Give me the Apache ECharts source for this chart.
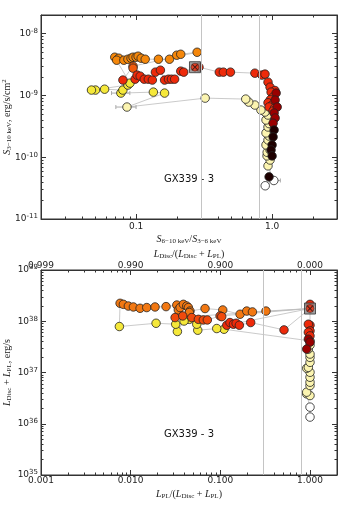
<!DOCTYPE html>
<html>
<head>
<meta charset="utf-8">
<script src="https://cdn.jsdelivr.net/npm/echarts@6/dist/echarts.min.js"></script>
<style>
html,body{margin:0;padding:0;background:#fff;}
#chart{width:341px;height:511px;}
</style>
</head>
<body>
<div id="chart"></div>
<script>
// top panel: flux S(3-10 keV) vs colour S(6-10)/S(3-6), groups in time order
var topWhite = [[0.89, 3.45e-11], [1.03, 4.2e-11]];
var topPale = [[0.933, 7.24e-11], [0.966, 9.0e-11], [0.918, 1.05e-10], [0.92, 1.2e-10], [0.966, 1.31e-10], [0.902, 1.58e-10],
    [0.933, 1.9e-10], [0.95, 2.2e-10], [0.902, 2.47e-10], [0.933, 3.08e-10], [0.95, 3.5e-10], [0.902, 4.0e-10], [0.933, 4.81e-10],
    [0.887, 5.38e-10], [0.828, 5.79e-10], [0.747, 6.98e-10], [0.673, 7.79e-10], [0.64, 8.71e-10], [0.322, 9.04e-10], [0.0857, 6.48e-10]];
var topYellow = [[0.162, 1.09e-9], [0.134, 1.13e-9], [0.0773, 1.09e-9], [0.08, 1.22e-9], [0.0587, 1.26e-9], [0.0503, 1.22e-9],
    [0.047, 1.22e-9], [0.0871, 1.47e-9], [0.0902, 1.58e-9]];
var topOrange = [[0.0697, 4.15e-9], [0.0747, 4.0e-9], [0.072, 3.71e-9], [0.0813, 3.71e-9], [0.0871, 3.85e-9], [0.0918, 4.0e-9],
    [0.095, 4.15e-9], [0.1, 4.15e-9], [0.1035, 4.31e-9], [0.109, 4.0e-9], [0.1167, 3.85e-9], [0.146, 3.85e-9], [0.176, 3.85e-9],
    [0.199, 4.47e-9], [0.213, 4.63e-9], [0.281, 4.99e-9]];
var topOrange2 = [[0.095, 2.97e-9], [0.095, 2.76e-9]];
var topRedA = [[0.08, 1.77e-9], [0.0984, 1.83e-9], [0.1017, 2.13e-9], [0.1072, 2.05e-9], [0.1148, 1.83e-9], [0.123, 1.83e-9],
    [0.1317, 1.77e-9], [0.1387, 2.38e-9], [0.151, 2.56e-9], [0.162, 1.77e-9], [0.173, 1.83e-9], [0.182, 1.83e-9], [0.192, 1.83e-9],
    [0.213, 2.47e-9], [0.224, 2.38e-9]];
var topSquare = [[0.271, 2.86e-9]];
var topRedB = [[0.29, 2.86e-9], [0.409, 2.38e-9], [0.438, 2.38e-9], [0.494, 2.38e-9], [0.747, 2.29e-9], [0.842, 2.13e-9],
    [0.887, 2.21e-9], [0.933, 1.64e-9], [0.966, 1.36e-9], [1.05, 1.2e-9], [0.983, 1.13e-9], [1.017, 9.4e-10], [0.97, 8.5e-10],
    [0.933, 7.6e-10], [1.0, 7.0e-10], [0.95, 6.5e-10], [1.04, 6.2e-10], [1.017, 5.6e-10]];
var topDark = [[1.071, 1.09e-9], [1.053, 8.4e-10], [1.09, 6.48e-10], [1.035, 5.18e-10], [1.053, 4.31e-10], [1.017, 3.55e-10]];
var topBlack = [[1.035, 2.76e-10], [1.017, 2.13e-10], [1.0, 1.58e-10], [0.983, 1.31e-10], [1.0, 1.05e-10], [0.95, 4.81e-11]];
// horizontal error bars [xlo, xhi, y]
var topErr = [[0.071, 0.1, 6.48e-10], [0.066, 0.09, 1.09e-9], [0.044, 0.052, 1.22e-9], [0.935, 1.15, 4.2e-11]];

// bottom panel: L(Disc+PL) vs PL fraction
var botWhite = [[1.0, 1.35e36], [1.0, 2.11e36]];
var botPale = [[0.919, 3.83e36], [1.0, 3.55e36], [0.919, 4.13e36], [1.0, 5.55e36], [1.0, 6.46e36], [1.0, 8.07e36], [1.0, 1.01e37],
    [0.919, 1.21e37], [0.958, 1.26e37], [1.0, 1.58e37], [1.0, 1.97e37], [1.0, 2.29e37], [0.958, 2.86e37], [1.0, 3.42e37], [1.0, 4.14e37]];
var botYellow = [[0.11, 6.99e37], [0.0912, 7.21e37], [0.056, 6.68e37], [0.0546, 8.75e37], [0.0451, 1.09e38], [0.0394, 1.01e38],
    [0.0332, 6.31e37], [0.0318, 8.75e37], [0.0192, 9.14e37], [0.00748, 7.89e37]];
var botOrange = [[0.00762, 2.24e38], [0.00829, 2.14e38], [0.00942, 1.98e38], [0.01072, 1.9e38], [0.01273, 1.79e38], [0.01511, 1.85e38],
    [0.0187, 1.9e38], [0.0248, 1.93e38], [0.0327, 2.07e38], [0.034, 1.66e38], [0.0356, 1.85e38], [0.0387, 2.14e38], [0.0422, 1.98e38],
    [0.044, 1.85e38], [0.0459, 1.58e38], [0.0451, 1.48e38], [0.0675, 1.77e38], [0.1064, 1.66e38], [0.166, 1.37e38], [0.197, 1.58e38],
    [0.228, 1.52e38], [0.323, 1.58e38]];
var botOrangeRed = [[0.0313, 1.18e38], [0.0381, 1.27e38], [0.048, 1.18e38], [0.0569, 1.09e38], [0.0646, 1.06e38], [0.0716, 1.06e38],
    [0.0993, 1.27e38], [0.1037, 1.23e38]];
var botRed = [[0.118, 8.36e37], [0.128, 9.44e37], [0.14, 8.75e37], [0.15, 9.14e37], [0.163, 8.36e37], [0.218, 9.44e37], [0.513, 6.78e37]];
var botSquare = [[1.0, 1.77e38]];
var botRedCol = [[1.0, 2.14e38], [1.0, 8.36e37], [0.958, 8.75e37], [1.0, 6.49e37], [0.958, 6.11e37], [1.0, 5.19e37]];
var botDark = [[0.958, 4.47e37], [1.0, 3.91e37], [0.919, 2.86e37]];

var vLines = [0.3, 0.8];
var topX = [0.02, 3], topY = [1e-11, 2e-8];
var botX = [0.001, 2], botY = [1e35, 1e39];

var myChart = echarts.init(document.getElementById('chart'));

function isDecade(v) {
    var e = Math.log10(v);
    return Math.abs(e - Math.round(e)) < 1e-6;
}
function powLabel(v) {
    if (!isDecade(v)) return '';
    return '10{sup|' + Math.round(Math.log10(v)) + '}';
}
// minor tick positions in exponent space (2..9 x 10^k)
function minorVals(lo, hi) {
    var out = [];
    for (var e = Math.floor(Math.log10(lo)); e <= Math.ceil(Math.log10(hi)); e++) {
        for (var m = 2; m <= 9; m++) {
            var v = m * Math.pow(10, e);
            if (v > lo && v < hi) out.push(Math.log10(v));
        }
    }
    return out;
}

var lblFont = { fontFamily: 'DejaVu Sans', fontSize: 9, color: '#222' };
var supRich = { sup: { fontFamily: 'DejaVu Sans', fontSize: 7, verticalAlign: 'top', padding: [0, 0, 5, 0] } };
var nameRich = {
    i: { fontFamily: 'Liberation Serif', fontStyle: 'italic', fontSize: 10, color: '#222' },
    n: { fontFamily: 'Liberation Serif', fontSize: 10, color: '#222' },
    sub: { fontFamily: 'Liberation Serif', fontSize: 7, color: '#222', padding: [5, 0, 0, 0] },
    sup: { fontFamily: 'Liberation Serif', fontSize: 7, color: '#222', padding: [0, 0, 5, 0] }
};
var lineSty = { show: true, onZero: false, lineStyle: { color: '#333', width: 1 } };

function logAxis(gi, pos, ext, label, extra, margin) {
    var ax = {
        type: 'log', logBase: 10, gridIndex: gi, position: pos, min: ext[0], max: ext[1],
        nameMoveOverlap: false,
        axisLine: lineSty,
        axisTick: { show: true, inside: true, length: 5, lineStyle: { color: '#333' } },
        splitLine: { show: false },
        axisLabel: label ? Object.assign({ show: true, interval: 0, margin: margin == null ? 3 : margin, rich: supRich, formatter: label }, lblFont) : { show: false }
    };
    return Object.assign(ax, extra || {});
}
function minorAxis(gi, pos, ext) {
    return {
        type: 'value', gridIndex: gi, position: pos, min: Math.log10(ext[0]), max: Math.log10(ext[1]),
        axisLine: { show: false, onZero: false }, splitLine: { show: false }, axisLabel: { show: false },
        axisTick: { show: true, inside: true, length: 2.5, lineStyle: { color: '#333' }, customValues: minorVals(ext[0], ext[1]) }
    };
}

function dots(name, data, color, xi, yi, z) {
    return {
        name: name, type: 'scatter', xAxisIndex: xi, yAxisIndex: yi, data: data, symbol: 'circle', symbolSize: 8.5, z: z || 3,
        itemStyle: { color: color, borderColor: '#222', borderWidth: 0.8, opacity: 1 }
    };
}
function track(data, xi, yi) {
    return {
        type: 'line', xAxisIndex: xi, yAxisIndex: yi, data: data, symbol: 'none', z: 1, silent: true,
        lineStyle: { color: '#bdbdbd', width: 0.8 },
        markLine: {
            silent: true, symbol: 'none', label: { show: false },
            lineStyle: { color: '#c4c4c4', width: 1, type: 'solid' },
            data: vLines.map(function (v) { return { xAxis: v }; })
        }
    };
}
function squareMark(data, xi, yi) {
    return [
        { type: 'scatter', xAxisIndex: xi, yAxisIndex: yi, data: data, symbol: 'rect', symbolSize: 11, z: 4,
          itemStyle: { color: '#8a8a8a', borderColor: '#333', borderWidth: 1 } },
        { type: 'scatter', xAxisIndex: xi, yAxisIndex: yi, data: data, symbol: 'circle', symbolSize: 8, z: 5,
          itemStyle: { color: '#ee2a0a', borderColor: '#222', borderWidth: 0.6 } },
        { type: 'scatter', xAxisIndex: xi, yAxisIndex: yi, data: data, z: 6,
          symbol: 'path://M0,1L1,0L5,4L9,0L10,1L6,5L10,9L9,10L5,6L1,10L0,9L4,5Z', symbolSize: 6,
          itemStyle: { color: '#111' } }
    ];
}

var cPale = '#fbf4b0', cYellow = '#f5e83a', cOrange = '#f5870a', cOrange2 = '#f05a0c', cRed = '#ee2a0a', cDark = '#9a0000', cBlack = '#1e0000';

var topTrack = [].concat(topWhite, topPale, topYellow, topOrange, topOrange2, topRedA, topSquare, topRedB, topDark, topBlack);
var botTrack = [].concat(botWhite, botPale, botYellow, botOrange, botSquare, botOrangeRed, botSquare, botRed, botSquare, botRedCol, botDark);

var option = {
    animation: false,
    backgroundColor: '#fff',
    grid: [
        { left: 41, top: 15, width: 296, height: 204, show: true, borderColor: '#333', borderWidth: 1, outerBoundsMode: 'none', containLabel: false },
        { left: 41, top: 270, width: 296, height: 205, show: true, borderColor: '#333', borderWidth: 1, outerBoundsMode: 'none', containLabel: false }
    ],
    xAxis: [
        logAxis(0, 'bottom', topX, function (v) {
            if (!isDecade(v)) return '';
            return v.toFixed(Math.max(1, -Math.round(Math.log10(v))));
        }, {
            name: '{i|S}{sub|6\u221210 keV}{n|/}{i|S}{sub|3\u22126 keV}', nameLocation: 'middle', nameGap: 14,
            nameTextStyle: { rich: nameRich }
        }),
        logAxis(0, 'top', topX, null),
        minorAxis(0, 'bottom', topX),
        minorAxis(0, 'top', topX),
        logAxis(1, 'bottom', botX, function (v) {
            return isDecade(v) ? v.toFixed(3) : '';
        }, {
            name: '{i|L}{sub|PL}{n|/(}{i|L}{sub|Disc}{n| + }{i|L}{sub|PL}{n|)}', nameLocation: 'middle', nameGap: 13,
            nameTextStyle: { rich: nameRich }
        }, 1),
        logAxis(1, 'top', botX, function (v) {
            return isDecade(v) ? (1 - v).toFixed(3) : '';
        }, {
            name: '{i|L}{sub|Disc}{n|/(}{i|L}{sub|Disc}{n| + }{i|L}{sub|PL}{n|)}', nameLocation: 'middle', nameGap: 10,
            nameTextStyle: { rich: nameRich }
        }, 0),
        minorAxis(1, 'bottom', botX),
        minorAxis(1, 'top', botX)
    ],
    yAxis: [
        logAxis(0, 'left', topY, powLabel, {
            name: '{i|S}{sub|3\u221210 keV}{n|, erg/s/cm}{sup|2}', nameLocation: 'middle', nameGap: 28, nameRotate: 90,
            nameTextStyle: { rich: nameRich }
        }),
        logAxis(0, 'right', topY, null),
        minorAxis(0, 'left', topY),
        minorAxis(0, 'right', topY),
        logAxis(1, 'left', botY, powLabel, {
            name: '{i|L}{sub|Disc}{n| + }{i|L}{sub|PL}{n|, erg/s}', nameLocation: 'middle', nameGap: 28, nameRotate: 90,
            nameTextStyle: { rich: nameRich }
        }),
        logAxis(1, 'right', botY, null),
        minorAxis(1, 'left', botY),
        minorAxis(1, 'right', botY)
    ],
    graphic: [
        { type: 'text', x: 189, y: 179, style: { text: 'GX339 - 3', fontFamily: 'DejaVu Sans', fontSize: 10, fill: '#111', align: 'center', verticalAlign: 'middle' } },
        { type: 'text', x: 189, y: 434, style: { text: 'GX339 - 3', fontFamily: 'DejaVu Sans', fontSize: 10, fill: '#111', align: 'center', verticalAlign: 'middle' } }
    ],
    series: [
        track(topTrack, 0, 0),
        {
            type: 'custom', xAxisIndex: 0, yAxisIndex: 0, data: topErr, z: 2, silent: true,
            encode: { x: [0, 1], y: 2 },
            renderItem: function (params, api) {
                var a = api.coord([api.value(0), api.value(2)]);
                var b = api.coord([api.value(1), api.value(2)]);
                var st = { stroke: '#aaa', lineWidth: 1 };
                return { type: 'group', children: [
                    { type: 'line', shape: { x1: a[0], y1: a[1], x2: b[0], y2: b[1] }, style: st },
                    { type: 'line', shape: { x1: a[0], y1: a[1] - 2, x2: a[0], y2: a[1] + 2 }, style: st },
                    { type: 'line', shape: { x1: b[0], y1: b[1] - 2, x2: b[0], y2: b[1] + 2 }, style: st }
                ] };
            }
        },
        dots('white', topWhite, '#ffffff', 0, 0),
        dots('pale', topPale, cPale, 0, 0),
        dots('yellow', topYellow, cYellow, 0, 0),
        dots('orange', topOrange, cOrange, 0, 0),
        dots('orange2', topOrange2, cOrange2, 0, 0),
        dots('redA', topRedA, cRed, 0, 0),
        dots('redB', topRedB, cRed, 0, 0),
        dots('dark', topDark, cDark, 0, 0),
        dots('black', topBlack, cBlack, 0, 0)
    ].concat(squareMark(topSquare, 0, 0), [
        track(botTrack, 4, 4),
        dots('white', botWhite, '#ffffff', 4, 4),
        dots('pale', botPale, cPale, 4, 4),
        dots('yellow', botYellow, cYellow, 4, 4),
        dots('orange', botOrange, '#f27812', 4, 4),
        dots('orange2', botOrangeRed, '#f04a0c', 4, 4),
        dots('red', botRed, cRed, 4, 4),
        dots('redcol', botRedCol, cRed, 4, 4),
        dots('dark', botDark, cDark, 4, 4)
    ], squareMark(botSquare, 4, 4))
};

myChart.setOption(option);
</script>
</body>
</html>
